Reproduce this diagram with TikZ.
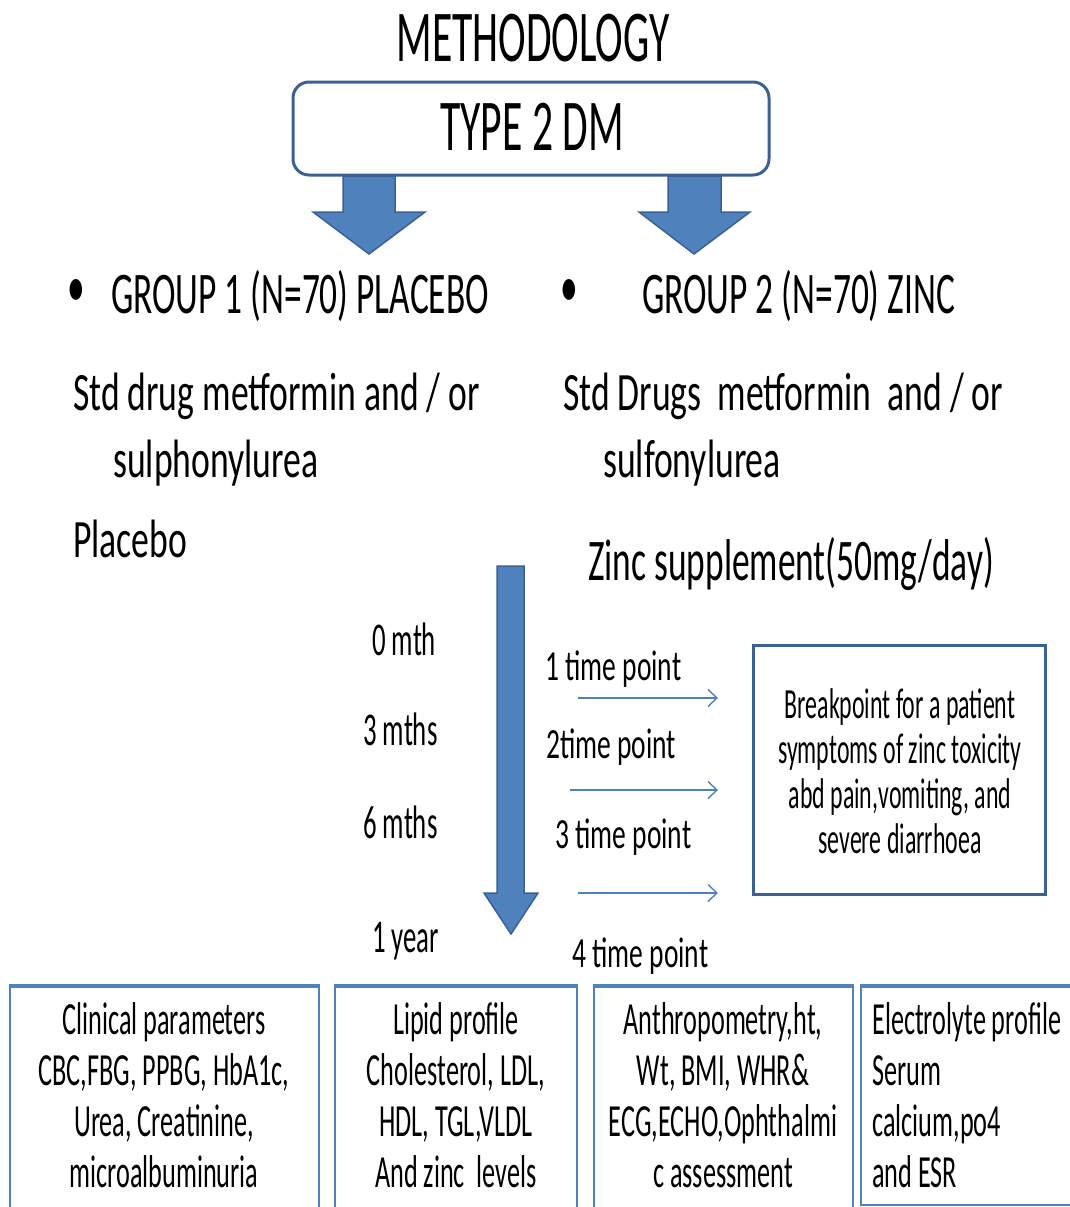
\documentclass[tikz,border=0pt]{standalone}
\usepackage{fontspec}
\setmainfont[FakeStretch=0.57]{Carlito}
\newfontfamily\grpface[FakeStretch=0.60]{Carlito}
\newfontfamily\stdface[FakeStretch=0.66]{Carlito}
\newfontfamily\tpface[FakeStretch=0.64]{Carlito}
\newfontfamily\brkface[FakeStretch=0.555]{Carlito}
\usetikzlibrary{arrows.meta}
\definecolor{fillblue}{HTML}{4F81BD}
\definecolor{edgeblue}{HTML}{3B6194}

\begin{document}
\begin{tikzpicture}[x=1pt,y=-1pt,
    txt/.style={inner sep=0pt,anchor=base west},
    bigfont/.style={font=\fontsize{73}{80}\selectfont},
    grpfont/.style={font=\grpface\fontsize{59}{66}\selectfont},
    stdfont/.style={font=\stdface\fontsize{54}{60}\selectfont},
    mthfont/.style={font=\fontsize{47}{52}\selectfont},
    tpfont/.style={font=\tpface\fontsize{43}{48}\selectfont},
    blockarrow/.style={fill=fillblue,draw=edgeblue,line width=1.5pt,line join=miter},
    thinarrow/.style={draw=fillblue,line width=1.4pt,-{Straight Barb[length=9pt,width=17pt,line width=1.4pt]}},
    parambox/.style={draw=fillblue,line width=2.2pt}]
    \useasboundingbox (0,0) rectangle (1070,1207);
    \node[txt,bigfont,anchor=base] (title) at (533,62) {METHODOLOGY};
    % type 2 box and the two block arrows
    \draw[edgeblue,line width=3pt,fill=white,rounded corners=16pt] (293,82) rectangle (769,175);
    \node[txt,bigfont,anchor=base] (dm) at (532,150) {TYPE 2 DM};
    \draw[blockarrow] (343,176) -- (395,176) -- (395,212) -- (425,212) -- (369,254) -- (313,212) -- (343,212) -- cycle;
    \draw[blockarrow] (668,176) -- (721,176) -- (721,212) -- (750,212) -- (694,254) -- (639,212) -- (668,212) -- cycle;
    % the two groups
    \node[inner sep=0pt,grpfont] (b1) at (76,293) {•};
    \node[txt,grpfont] (grp1) at (111,313) {GROUP 1 (N=70) PLACEBO};
    \node[inner sep=0pt,grpfont] (b2) at (569,293) {•};
    \node[txt,grpfont] (grp2) at (642,313) {GROUP 2 (N=70) ZINC};
    \node[txt,stdfont] (std1) at (73,410) {Std drug metformin and / or};
    \node[txt,stdfont] (sul1) at (113,477) {sulphonylurea};
    \node[txt,stdfont] (plac) at (73,557) {Placebo};
    \node[txt,stdfont] (std2) at (563,410) {Std Drugs\ \ metformin\ \ and / or};
    \node[txt,stdfont] (sul2) at (603,477) {sulfonylurea};
    \node[txt,grpfont] (zinc) at (588,580) {Zinc supplement(50mg/day)};
    % time line
    \draw[blockarrow] (497,566) -- (524,566) -- (524,893) -- (538,893) -- (511,934) -- (484,893) -- (497,893) -- cycle;
    \node[txt,mthfont] (m0) at (372,655) {0 mth};
    \node[txt,mthfont] (m3) at (363,745) {3 mths};
    \node[txt,mthfont] (m6) at (363,838) {6 mths};
    \node[txt,mthfont] (m12) at (372,952) {1 year};
    \node[txt,tpfont] (tp1) at (545,680) {1 time point};
    \node[txt,tpfont] (tp2) at (546,758) {2time point};
    \node[txt,tpfont] (tp3) at (555,848) {3 time point};
    \node[txt,tpfont] (tp4) at (572,967) {4 time point};
    \coordinate (a1s) at (578,698); \coordinate (a1e) at (718,698);
    \coordinate (a2s) at (570,790); \coordinate (a2e) at (718,790);
    \coordinate (a3s) at (578,893); \coordinate (a3e) at (718,893);
    \draw[thinarrow] (a1s) -- (a1e);
    \draw[thinarrow] (a2s) -- (a2e);
    \draw[thinarrow] (a3s) -- (a3e);
    \draw[edgeblue,line width=3pt] (753,645) rectangle (1045,894);
    \node[inner sep=0pt,align=center,font=\brkface\fontsize{43}{45}\selectfont] (brk) at (900,771)
      {Breakpoint for a patient\\symptoms of zinc toxicity\\abd pain,vomiting, and\\severe diarrhoea};
    % parameter boxes
    \draw[parambox] (10,985) rectangle (319,1212);
    \draw[parambox] (335,985) rectangle (577,1212);
    \draw[parambox] (594,985) rectangle (853,1212);
    \draw[parambox] (861,985) rectangle (1072,1205);
    \foreach \l/\r in {10/319,335/577,594/853,861/1072}
      \draw[fillblue,line width=4pt] (\l,986) -- (\r,986);
    \node[inner sep=0pt,align=center,font=\fontsize{46}{51}\selectfont] (clin) at (164,1095)
      {Clinical parameters\\CBC,FBG, PPBG, HbA1c,\\Urea, Creatinine,\\microalbuminuria};
    \node[inner sep=0pt,align=center,font=\fontsize{46}{51}\selectfont] (lipid) at (456,1095)
      {Lipid profile\\Cholesterol, LDL,\\HDL, TGL,VLDL\\And zinc\ \ levels};
    \node[inner sep=0pt,align=center,font=\fontsize{46}{51}\selectfont] (anthro) at (723,1095)
      {Anthropometry,ht,\\Wt, BMI, WHR\&\\ECG,ECHO,Ophthalmi\\c assessment};
    \node[inner sep=0pt,align=left,anchor=west,font=\fontsize{46}{51}\selectfont] (elec) at (872,1095)
      {Electrolyte profile\\Serum\\calcium,po4\\and ESR};
\end{tikzpicture}
\end{document}
